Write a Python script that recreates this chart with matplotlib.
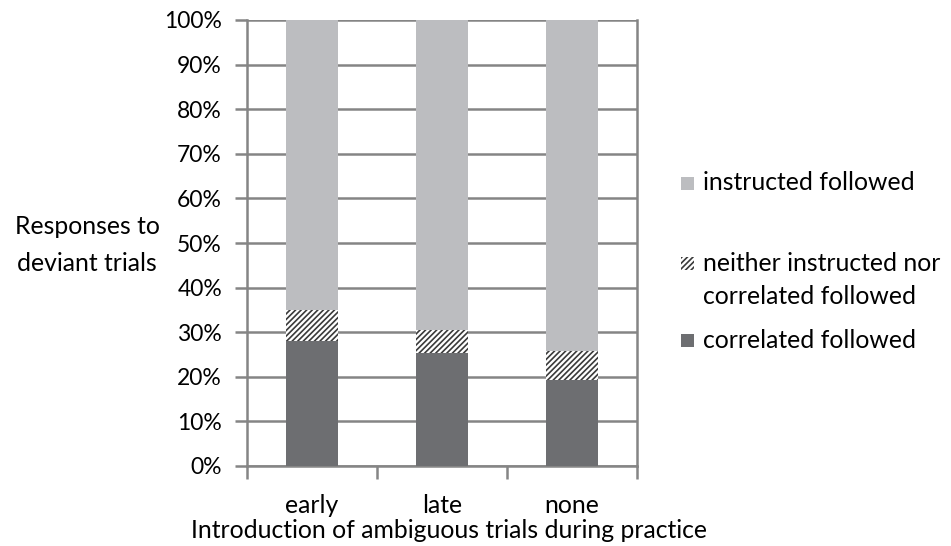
import numpy as np
import matplotlib.pyplot as plt
from matplotlib.patches import Rectangle

plt.rcParams['font.family'] = ['Lato', 'DejaVu Sans']
plt.rcParams['hatch.color'] = '#3a3a3a'
plt.rcParams['hatch.linewidth'] = 1.2

categories = ['early', 'late', 'none']
correlated = [28.0, 25.3, 19.3]
neither = [7.0, 5.2, 6.5]
instructed = [65.0, 69.5, 74.2]
legend_labels = ['instructed followed', 'neither instructed nor\ncorrelated followed', 'correlated followed']

dark = '#6d6e71'
light = '#bcbdc0'
grid_col = '#858585'
fs = 16.5
fs2 = 17.8

W, H = 951, 546
fig = plt.figure(figsize=(9.51, 5.46), dpi=100)
ax = fig.add_axes([247 / W, 1 - 466 / H, 390 / W, 446 / H])

x = np.arange(len(categories))
w = 0.4
bottom2 = np.array(correlated) + np.array(neither)
ax.bar(x, correlated, w, color=dark, zorder=3)
ax.bar(x, neither, w, bottom=correlated, color='white', hatch='//////', edgecolor='#3a3a3a', linewidth=0, zorder=3)
ax.bar(x, instructed, w, bottom=bottom2, color=light, zorder=3)

ax.set_xlim(-0.5, 2.5)
ax.set_ylim(0, 100)
ax.set_yticks(np.arange(0, 101, 10))
ax.set_yticklabels([f'{v}%' for v in range(0, 101, 10)], fontsize=fs)
ax.yaxis.grid(True, color=grid_col, linewidth=1.8, zorder=0)
ax.set_xticks([-0.5, 0.5, 1.5, 2.5])
ax.set_xticklabels([])
ax.set_xticks(x, minor=True)
ax.set_xticklabels(categories, minor=True, fontsize=fs2)
ax.tick_params(axis='x', which='minor', length=0, pad=20)
ax.tick_params(axis='x', which='major', length=9, width=1.8, color=grid_col)
ax.tick_params(axis='y', length=9, width=1.8, color=grid_col, pad=9)
ax.spines['top'].set_visible(False)
for s in ['left', 'right', 'bottom']:
    ax.spines[s].set_color(grid_col)
    ax.spines[s].set_linewidth(1.8)

fig.text(449 / W, 1 - 530 / H, 'Introduction of ambiguous trials during practice',
         ha='center', va='center', fontsize=fs2)
fig.text(87 / W, 1 - 245 / H, 'Responses to\ndeviant trials', ha='center', va='center',
         fontsize=fs2, linespacing=1.7)

# legend drawn by hand, Excel style (marker next to first line)
styles = [dict(facecolor=light), dict(facecolor='white', hatch='//////', edgecolor='#3a3a3a', linewidth=0),
          dict(facecolor=dark)]
rows = [183, 263, 340]
for lab, st, yy in zip(legend_labels, styles, rows):
    fig.patches.append(Rectangle((681 / W, 1 - (yy + 7) / H), 13 / W, 13 / H,
                                 transform=fig.transFigure, **st))
    for i, line in enumerate(lab.split('\n')):
        fig.text(703 / W, 1 - (yy + 34 * i) / H, line, ha='left', va='center', fontsize=fs2)

fig.savefig('out.png', dpi=100)
